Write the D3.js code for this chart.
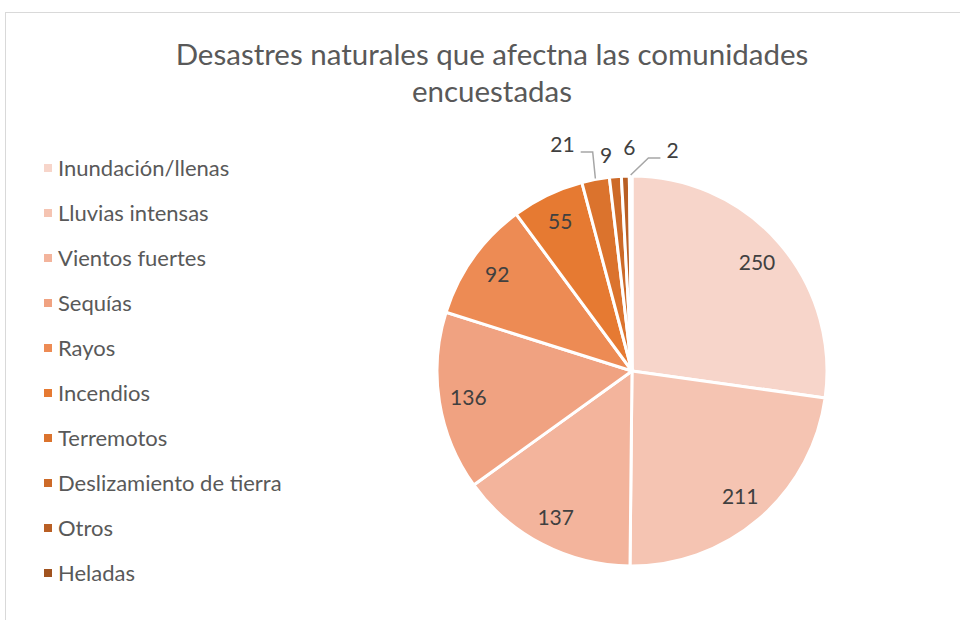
<!DOCTYPE html>
<html>
<head>
<meta charset="utf-8">
<script src="https://cdn.jsdelivr.net/npm/d3@7"></script>
<style>
  body { margin: 0; background: #fff; }
  svg { display: block; font-family: Lato, "Open Sans", sans-serif; }
</style>
</head>
<body>
<svg id="chart" width="960" height="620"></svg>
<script>
// Chart data
var categories = ["Inundación/llenas", "Lluvias intensas", "Vientos fuertes", "Sequías", "Rayos",
  "Incendios", "Terremotos", "Deslizamiento de tierra", "Otros", "Heladas"];
var values = [250, 211, 137, 136, 92, 55, 21, 9, 6, 2];
var colors = ["#F7D5CA", "#F5C4B2", "#F3B49C", "#F0A281", "#ED8B54",
  "#E67A32", "#DB732D", "#CD6A28", "#B95F24", "#A1531F"];
var titleLines = ["Desastres naturales que afectna las comunidades", "encuestadas"];

var svg = d3.select("#chart");
var cx = 632, cy = 371, radius = 195;

// Chart frame (runs off the right/bottom like the screenshot)
svg.append("rect")
  .attr("x", 5.5).attr("y", 12.5)
  .attr("width", 1000).attr("height", 700)
  .attr("fill", "none").attr("stroke", "#d9d9d9").attr("stroke-width", 1);

// Title
svg.append("text")
  .attr("x", 492).attr("y", 65)
  .attr("text-anchor", "middle")
  .attr("fill", "#595959")
  .style("font-size", "29.5px")
  .selectAll("tspan").data(titleLines).enter()
  .append("tspan")
    .attr("x", 492)
    .attr("dy", function(d, i) { return i ? 37 : 0; })
    .text(function(d) { return d; });

// Legend
var legend = svg.append("g").attr("class", "legend");
var row = legend.selectAll("g").data(categories).enter()
  .append("g")
    .attr("transform", function(d, i) { return "translate(44," + (168 + i * 45) + ")"; });
row.append("rect")
  .attr("x", 0).attr("y", -4).attr("width", 8).attr("height", 8)
  .attr("fill", function(d, i) { return colors[i]; });
row.append("text")
  .attr("x", 14).attr("dy", "0.35em")
  .attr("fill", "#595959")
  .style("font-size", "22px")
  .text(function(d) { return d; });

// Pie
var pie = d3.pie().sort(null).value(function(d) { return d; });
var arcs = pie(values);
var arc = d3.arc().innerRadius(0).outerRadius(radius);
var inner = d3.arc().innerRadius(radius * 0.85).outerRadius(radius * 0.85);
var outer = d3.arc().innerRadius(222).outerRadius(222);
var edge = d3.arc().innerRadius(radius + 1).outerRadius(radius + 1);

var g = svg.append("g").attr("transform", "translate(" + cx + "," + cy + ")");
g.selectAll("path.slice").data(arcs).enter()
  .append("path")
    .attr("class", "slice")
    .attr("d", arc)
    .attr("fill", function(d, i) { return colors[i]; })
    .attr("stroke", "#fff")
    .attr("stroke-width", 3)
    .attr("stroke-linejoin", "round");

// Labels: small slices go outside; crowded ones get nudged with a leader line
var total = d3.sum(values);
function isSmall(d) { return d.value / total < 0.03; }
// label nudges (px) for the outside callouts, by slice index
var nudge = { 6: [-28, -8], 7: [-7, 6], 8: [5, -1], 9: [42, 2] };

var labels = g.selectAll("g.lbl").data(arcs).enter()
  .append("g").attr("class", "lbl");

labels.each(function(d, i) {
  var sel = d3.select(this);
  if (!isSmall(d)) {
    var p = inner.centroid(d);
    sel.append("text")
      .attr("x", p[0]).attr("y", p[1])
      .attr("text-anchor", "middle").attr("dy", "0.35em")
      .attr("fill", "#404040").style("font-size", "21px")
      .text(d.value);
    return;
  }
  var o = outer.centroid(d);
  var n = nudge[i] || [0, 0];
  var lx = o[0] + n[0], ly = o[1] + n[1];
  var t = sel.append("text")
    .attr("x", lx).attr("y", ly)
    .attr("text-anchor", "middle").attr("dy", "0.35em")
    .attr("fill", "#404040").style("font-size", "21px")
    .text(d.value);
  if (Math.abs(n[0]) > 20) {
    // leader: short horizontal from the label, then down to the slice edge
    var e = edge.centroid(d);
    var side = n[0] < 0 ? 1 : -1;
    var half = t.node().getComputedTextLength() / 2;
    var x0 = lx + side * (half + 6), yl = ly + 7;
    sel.insert("path", "text")
      .attr("d", "M" + x0 + "," + yl + "H" + (x0 + side * 12) + "L" + e[0] + "," + e[1])
      .attr("fill", "none").attr("stroke", "#a6a6a6").attr("stroke-width", 1.5);
  }
});
</script>
</body>
</html>
